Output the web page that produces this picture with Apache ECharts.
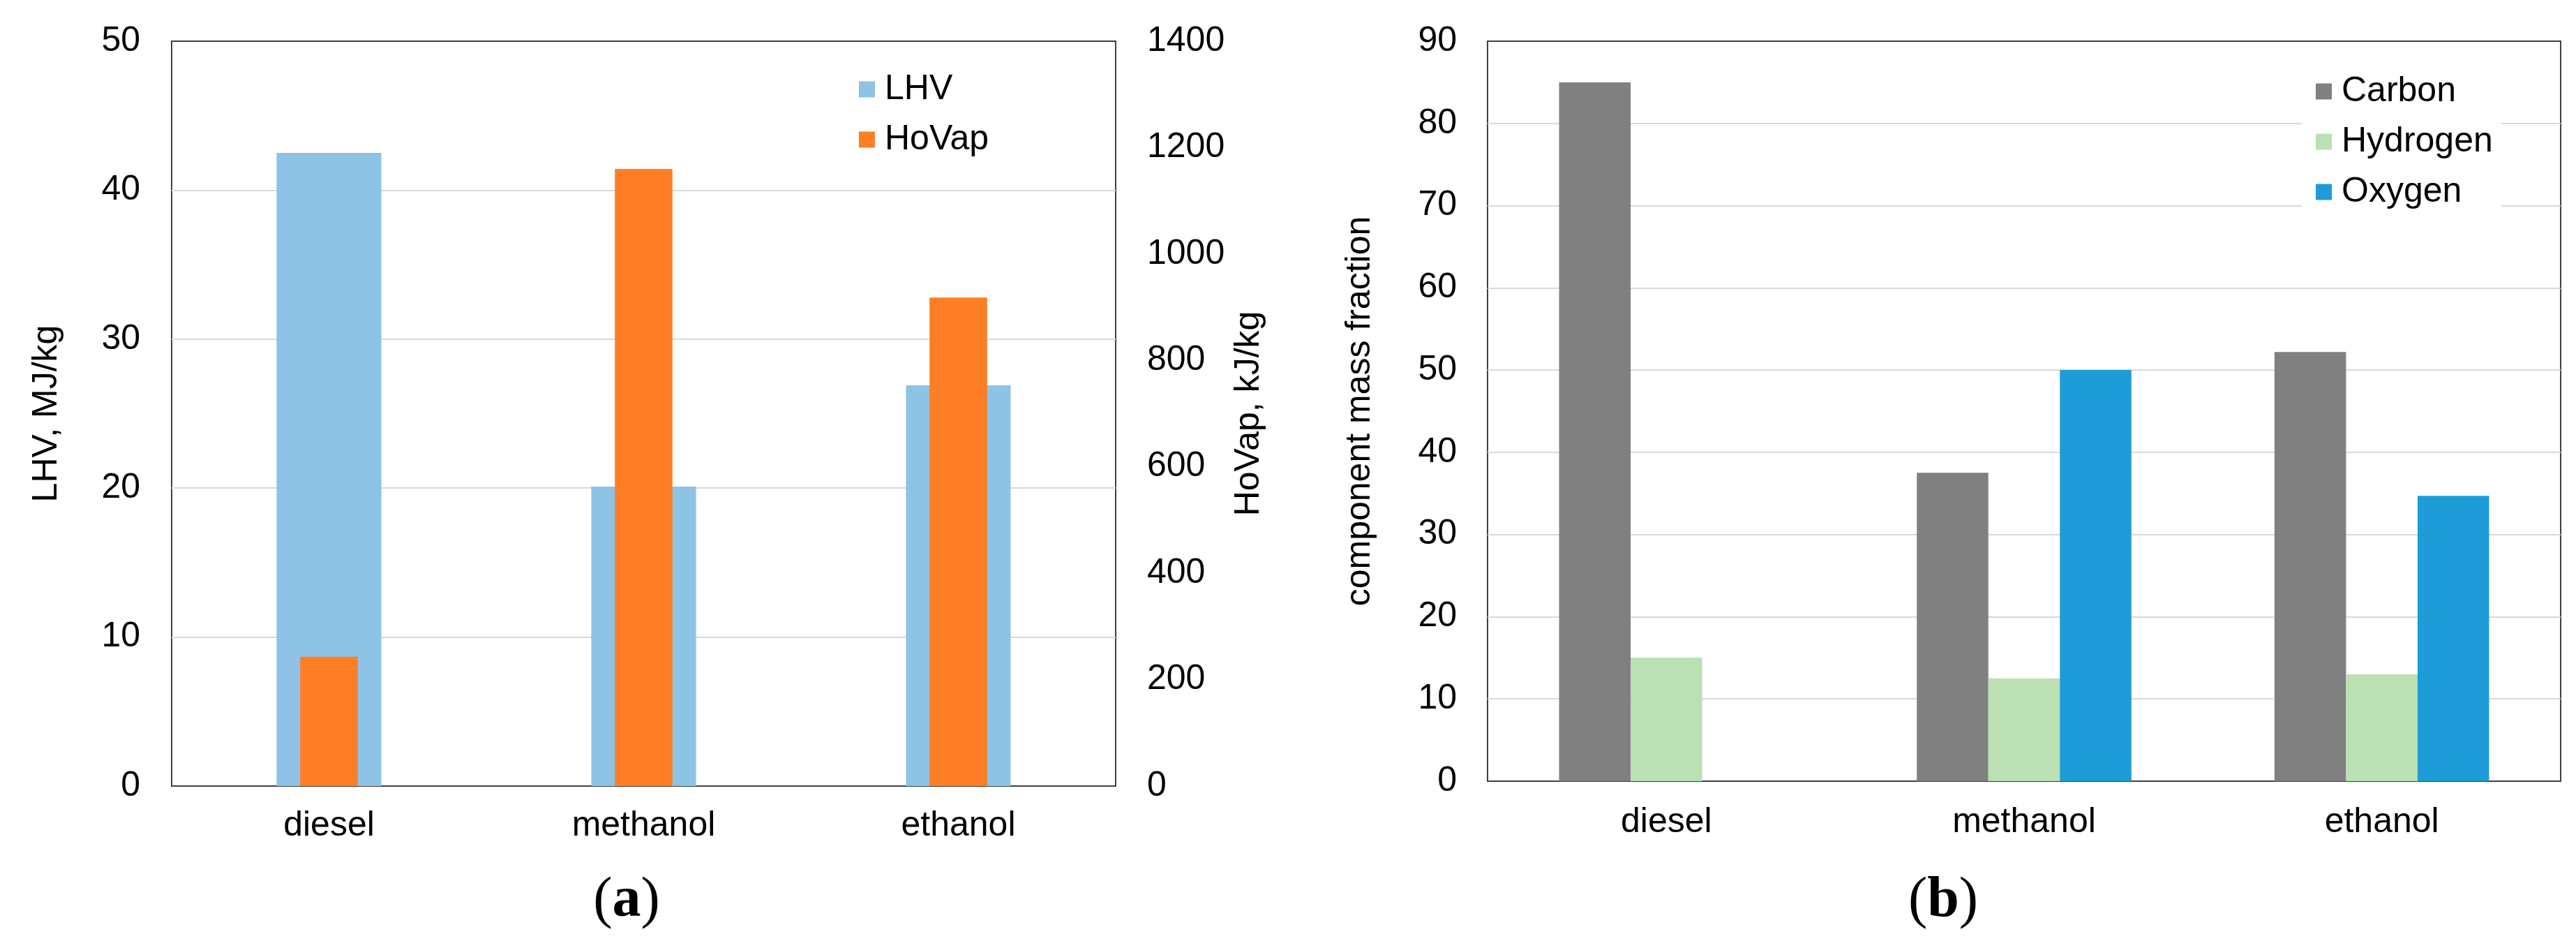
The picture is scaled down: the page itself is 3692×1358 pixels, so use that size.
<!DOCTYPE html>
<html>
<head>
<meta charset="utf-8">
<script src="https://cdn.jsdelivr.net/npm/echarts@6/dist/echarts.min.js"></script>
<style>
html,body{margin:0;padding:0;background:#fff;}
#chart{width:3692px;height:1358px;}
</style>
</head>
<body>
<div id="chart"></div>
<script>
// ---- data ----
const categories = ['diesel', 'methanol', 'ethanol'];
const lhv = [42.5, 20.1, 26.9];          // MJ/kg (left axis)
const hovap = [243, 1160, 918];          // kJ/kg (right axis)
const carbon = [85, 37.5, 52.2];
const hydrogen = [15, 12.5, 13];
const oxygen = [0, 50, 34.7];
const leftTicks = { min: 0, max: 50, interval: 10 };
const rightTicks = { min: 0, max: 1400, interval: 200 };
const massTicks = { min: 0, max: 90, interval: 10 };

const FONT = "'Liberation Sans', Arial, sans-serif";
const FS = 50;
const labelStyle = { color: '#000', fontSize: FS, fontFamily: FONT };
const gridLine = { show: true, showMinLine: false, showMaxLine: false, lineStyle: { color: '#d9d9d9', width: 2 } };
const plain = v => String(v);
const serif = "'Liberation Serif', 'Times New Roman', serif";
const subRich = {
  p: { fontFamily: serif, fontSize: 82, fontWeight: 'normal', color: '#000' },
  b: { fontFamily: serif, fontSize: 82, fontWeight: 'bold', color: '#000' }
};

const chart = echarts.init(document.getElementById('chart'), null, { renderer: 'canvas' });
chart.setOption({
  backgroundColor: '#fff',
  animation: false,
  textStyle: { fontFamily: FONT },
  title: [
    { text: '{p|(}{b|a}{p|)}', left: 893, top: 1245, textAlign: 'center', textStyle: { fontWeight: 'normal', rich: subRich } },
    { text: '{p|(}{b|b}{p|)}', left: 2780, top: 1245, textAlign: 'center', textStyle: { fontWeight: 'normal', rich: subRich } }
  ],
  legend: [
    { data: ['LHV', 'HoVap'], orient: 'vertical', left: 1221, top: 93, padding: 10,
      backgroundColor: '#fff', icon: 'rect', itemWidth: 23, itemHeight: 23, itemGap: 22,
      textStyle: { color: '#000', fontSize: FS, fontFamily: FONT, padding: [0, 0, 0, 9] } },
    { data: ['Carbon', 'Hydrogen', 'Oxygen'], orient: 'vertical', left: 3299, top: 96,
      padding: [10, 12, 10, 20], backgroundColor: '#fff', icon: 'rect', itemWidth: 23, itemHeight: 23, itemGap: 22,
      textStyle: { color: '#000', fontSize: FS, fontFamily: FONT, padding: [0, 0, 0, 9] } }
  ],
  grid: [
    { left: 246, right: 2093, top: 59, bottom: 232, show: true, borderColor: '#404040', borderWidth: 2, backgroundColor: '#fff' },
    { left: 2132, right: 22, top: 59, bottom: 239, show: true, borderColor: '#404040', borderWidth: 2, backgroundColor: '#fff' }
  ],
  xAxis: [
    { type: 'category', gridIndex: 0, data: categories, axisLine: { show: false }, axisTick: { show: false },
      axisLabel: Object.assign({ margin: 32 }, labelStyle), splitLine: { show: false } },
    { type: 'category', gridIndex: 0, data: categories, show: false },
    { type: 'category', gridIndex: 1, data: categories, axisLine: { show: false }, axisTick: { show: false },
      axisLabel: Object.assign({ margin: 34 }, labelStyle), splitLine: { show: false } }
  ],
  yAxis: [
    { type: 'value', gridIndex: 0, position: 'left', min: leftTicks.min, max: leftTicks.max, interval: leftTicks.interval,
      axisLine: { show: false }, axisTick: { show: false }, axisLabel: Object.assign({ margin: 45, formatter: plain }, labelStyle),
      splitLine: gridLine,
      name: 'LHV, MJ/kg', nameLocation: 'middle', nameRotate: 90, nameGap: 154,
      nameTextStyle: { color: '#000', fontSize: FS, fontFamily: FONT } },
    { type: 'value', gridIndex: 0, position: 'right', min: rightTicks.min, max: rightTicks.max, interval: rightTicks.interval,
      axisLine: { show: false }, axisTick: { show: false }, axisLabel: Object.assign({ margin: 45, formatter: plain }, labelStyle),
      splitLine: { show: false },
      name: 'HoVap, kJ/kg', nameLocation: 'middle', nameRotate: 90, nameGap: 166,
      nameTextStyle: { color: '#000', fontSize: FS, fontFamily: FONT } },
    { type: 'value', gridIndex: 1, position: 'left', min: massTicks.min, max: massTicks.max, interval: massTicks.interval,
      axisLine: { show: false }, axisTick: { show: false }, axisLabel: Object.assign({ margin: 44, formatter: plain }, labelStyle),
      splitLine: gridLine,
      name: 'component mass fraction', nameLocation: 'middle', nameRotate: 90, nameGap: 158,
      nameTextStyle: { color: '#000', fontSize: FS, fontFamily: FONT } }
  ],
  series: [
    { name: 'LHV', type: 'bar', xAxisIndex: 0, yAxisIndex: 0, data: lhv, barWidth: '33.3%', itemStyle: { color: '#8EC3E6' }, z: 2 },
    { name: 'HoVap', type: 'bar', xAxisIndex: 1, yAxisIndex: 1, data: hovap, barWidth: '18.3%', itemStyle: { color: '#FD7E24' }, z: 3 },
    { name: 'Carbon', type: 'bar', xAxisIndex: 2, yAxisIndex: 2, data: carbon, barWidth: '20%', barGap: 0, itemStyle: { color: '#808080' } },
    { name: 'Hydrogen', type: 'bar', xAxisIndex: 2, yAxisIndex: 2, data: hydrogen, barWidth: '20%', barGap: 0, itemStyle: { color: '#BAE0B4' } },
    { name: 'Oxygen', type: 'bar', xAxisIndex: 2, yAxisIndex: 2, data: oxygen, barWidth: '20%', barGap: 0, itemStyle: { color: '#1E9CD8' } }
  ]
});
</script>
</body>
</html>
